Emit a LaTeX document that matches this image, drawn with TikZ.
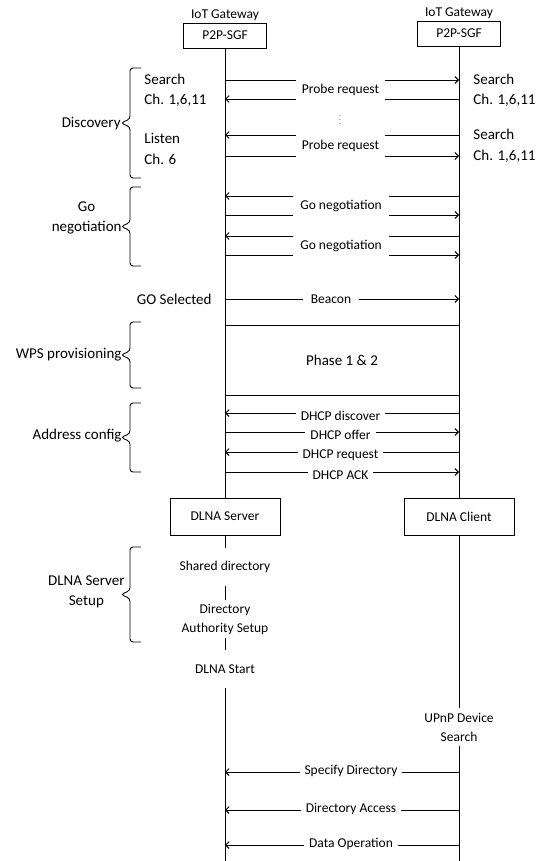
\documentclass[tikz,border=0pt]{standalone}
\usepackage{fontspec}
\setmainfont{Carlito}
\usetikzlibrary{arrows.meta}

\begin{document}
\begin{tikzpicture}[x=1pt,y=-1pt,line width=.9pt,
  every node/.style={font=\fontsize{13.5}{19}\selectfont,inner sep=1pt},
  big/.style={font=\fontsize{15}{20.5}\selectfont},
  box/.style={draw,minimum width=83pt,minimum height=25pt},
  dlnabox/.style={draw,minimum width=110pt,minimum height=37pt},
  msg/.style={-{Straight Barb[length=3.5pt,width=7pt]}},
  gap/.style={fill=white,inner xsep=5pt},
  stepnode/.style={align=center,minimum height=38pt},
  grp/.style={rounded corners=3pt}]
  \path[use as bounding box] (0,0) rectangle (542,861);
  % lifeline heads
  \node[box] (sgfA) at (225,35.5) {P2P-SGF};
  \node[box] (sgfB) at (459,33.5) {P2P-SGF};
  \node[above] (iotA) at (sgfA.north) {IoT Gateway};
  \node[above] (iotB) at (sgfB.north) {IoT Gateway};
  \node[dlnabox] (srv) at (225,516.5) {DLNA Server};
  \node[dlnabox] (cli) at (459,516.5) {DLNA Client};
  \node[stepnode] (shared) at (225,567) {Shared directory};
  \node[stepnode] (dirauth) at (225,619) {Directory\\Authority Setup};
  \node[stepnode] (dlnastart) at (225,669) {DLNA Start};
  \node[stepnode] (upnp) at (459,727) {UPnP Device\\Search};
  \coordinate (endA) at (225,861);
  \coordinate (endB) at (459,861);
  \draw (sgfA) -- (srv) -- (shared) -- (dirauth) -- (dlnastart) -- (endA);
  \draw (sgfB) -- (cli) -- (upnp) -- (endB);
  \node[draw,big,minimum width=234pt,minimum height=70pt] (phase) at (342,360) {Phase 1 \& 2};
  % messages
  \foreach \y/\from/\to in {80/sgfA/sgfB,99/sgfB/sgfA,135/sgfB/sgfA,156/sgfA/sgfB,
      196/sgfB/sgfA,215/sgfA/sgfB,236/sgfB/sgfA,255/sgfA/sgfB,299/sgfA/sgfB,
      413/sgfB/sgfA,432/sgfA/sgfB,452/sgfB/sgfA,472/sgfA/sgfB,
      772/sgfB/sgfA,810/sgfB/sgfA,845/sgfB/sgfA}
    \draw[msg] (\from |- 0,\y) -- (\to |- 0,\y);
  \node[gap,minimum width=89pt,minimum height=26pt] (probe1) at (340.5,89.5) {Probe request};
  \node[gap,minimum width=89pt,minimum height=26pt] (probe2) at (340.5,145.5) {Probe request};
  \node[font=\fontsize{7}{8}\selectfont] (dots) at (340,117) {$\vdots$};
  \node[gap,minimum width=96pt,minimum height=24pt] (go1) at (341,205.5) {Go negotiation};
  \node[gap,minimum width=96pt,minimum height=24pt] (go2) at (341,245.5) {Go negotiation};
  \node[gap,minimum width=56pt] (beacon) at (331,299) {Beacon};
  \node[gap] (dhcp1) at (340.5,416) {DHCP discover};
  \node[gap] (dhcp2) at (340.5,435) {DHCP offer};
  \node[gap] (dhcp3) at (340.5,455) {DHCP request};
  \node[gap] (dhcp4) at (340.5,475) {DHCP ACK};
  \node[gap] (spec) at (351,771) {Specify Directory};
  \node[gap] (acc) at (351,809) {Directory Access};
  \node[gap] (dataop) at (351,844) {Data Operation};
  % channel labels
  \node[big,align=left,anchor=west] (srchA) at (143,90.5) {Search\\Ch. 1,6,11};
  \node[big,align=left,anchor=west] (listenA) at (143,149) {Listen\\Ch. 6};
  \node[big,align=left,anchor=west] (srchB) at (472,90.5) {Search\\Ch. 1,6,11};
  \node[big,align=left,anchor=west] (srchC) at (472,146) {Search\\Ch. 1,6,11};
  \node[big,anchor=east] (gosel) at (213,299) {GO Selected};
  % phase braces
  \foreach \top/\bot in {68/178,187/266,322/388,403/472,547/642}
    \draw[grp] (141,\top) -| (130,{(\top+\bot)/2-4}) -- (121,{(\top+\bot)/2})
      -- (130,{(\top+\bot)/2+4}) |- (141,\bot);
  \node[big,anchor=east] (disc) at (122,124) {Discovery};
  \node[big,anchor=east,align=center] (gonego) at (123,218) {Go\\negotiation};
  \node[big,anchor=east] (wps) at (123,355) {WPS provisioning};
  \node[big,anchor=east] (addr) at (123,436) {Address config};
  \node[big,anchor=east,align=center] (setup) at (126,592) {DLNA Server\\Setup};
\end{tikzpicture}
\end{document}
